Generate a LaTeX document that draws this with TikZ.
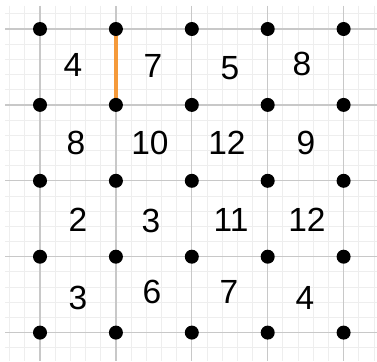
\documentclass[tikz,border=0pt]{standalone}
\usepackage{fontspec}
\setmainfont{Liberation Sans}
\definecolor{minorgrid}{HTML}{EEEEEE}
\definecolor{majorgrid}{HTML}{C8C8C8}
\definecolor{edgeorange}{HTML}{F59A3A}
\begin{document}
\begin{tikzpicture}[x=1pt,y=-1pt,
  dotnode/.style={circle,fill=black,inner sep=0pt,minimum size=14pt},
  numlabel/.style={font=\fontsize{33.5}{33.5}\selectfont,inner sep=0pt},
  minorline/.style={draw=minorgrid,line width=0.9pt},
  majorline/.style={draw=majorgrid,line width=1.3pt},
  hiedge/.style={draw=edgeorange,line width=3.6pt}]
\useasboundingbox (0,0) rectangle (377,361);
\fill[white] (0,0) rectangle (377,361);
% minor grid
\foreach \k in {-2,...,22} {
  \pgfmathsetmacro{\gx}{40+\k*15.18}
  \pgfmathsetmacro{\gy}{29+\k*15.18}
  \path[minorline] (\gx,6) -- (\gx,361);
  \path[minorline] (5,\gy) -- (377,\gy);
}
% major grid
\foreach \k in {0,...,4} {
  \pgfmathsetmacro{\gx}{40+\k*75.9}
  \pgfmathsetmacro{\gy}{29+\k*75.9}
  \path[majorline] (\gx,6) -- (\gx,361);
  \path[majorline] (5,\gy) -- (377,\gy);
}
% dots
\foreach \i in {0,...,4} {
  \foreach \j in {0,...,4} {
    \coordinate (c-\i-\j) at ({40+\i*75.9},{29+\j*75.9});
  }
}
\path[hiedge] (c-1-0) -- (c-1-1);
\foreach \i in {0,...,4} {
  \foreach \j in {0,...,4} {
    \node[dotnode] (p-\i-\j) at (c-\i-\j) {};
  }
}
% labels
\node[numlabel] (a11) at (73,65) {4};
\node[numlabel] (a12) at (153,66) {7};
\node[numlabel] (a13) at (230,68) {5};
\node[numlabel] (a14) at (302,64) {8};
\node[numlabel] (a21) at (76,143) {8};
\node[numlabel] (a22) at (150,143) {10};
\node[numlabel] (a23) at (227,143) {12};
\node[numlabel] (a24) at (306,143) {9};
\node[numlabel] (a31) at (78,220) {2};
\node[numlabel] (a32) at (151,221) {3};
\node[numlabel] (a33) at (231,220) {11};
\node[numlabel] (a34) at (307,220) {12};
\node[numlabel] (a41) at (78,298) {3};
\node[numlabel] (a42) at (152,292) {6};
\node[numlabel] (a43) at (229,292) {7};
\node[numlabel] (a44) at (305,298) {4};
\end{tikzpicture}
\end{document}
